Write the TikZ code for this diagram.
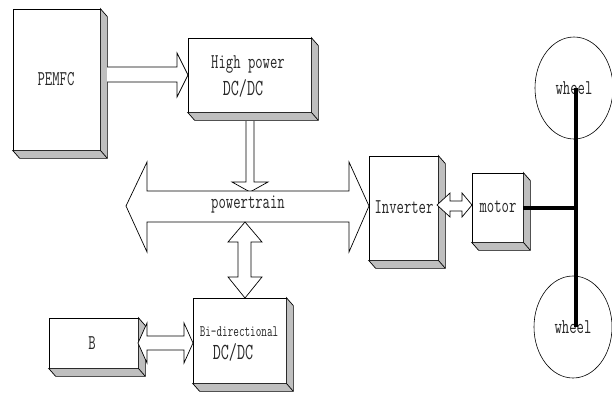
\documentclass[tikz,border=0pt]{standalone}
\usepackage{fontspec}
\newfontfamily\reffont{Latin Modern Mono}[FakeStretch=0.68]
\usetikzlibrary{calc,shapes.geometric}
\newcommand\boxshade[1]{%
  \filldraw[fill=black!25,line join=miter] (#1.north east) -- ++(7,8) -- ($(#1.south east)+(7,8)$) -- ($(#1.south west)+(7,8)$) -- (#1.south west) -- (#1.south east) -- cycle;
  \draw (#1.south east) -- ++(7,8);}
\begin{document}
\begin{tikzpicture}[x=1pt,y=-1pt,line width=0.7pt,
  lbl/.style={font=\reffont\fontsize{21}{21}\selectfont, inner sep=0pt, text=black!85},
  big/.style={font=\reffont\fontsize{23}{23}\selectfont, inner sep=0pt, text=black!85},
  small/.style={font=\reffont\fontsize{16}{16}\selectfont, inner sep=0pt, text=black!85},
  blk/.style={draw, fill=white, rectangle, inner sep=0pt},
  barrow/.style={draw, fill=white, line join=miter},
  axle/.style={line width=4pt},
  whl/.style={draw, ellipse, inner sep=0pt, line width=0.6pt, minimum width=78pt, minimum height=102pt}]
\useasboundingbox (0,0) rectangle (612,394);

% boxes
\node (pemfc) [blk, minimum width=87pt, minimum height=141pt] at (56.5,79.5) {};
\node (hp) [blk, minimum width=123pt, minimum height=74pt] at (249.5,75) {};
\node (bi) [blk, minimum width=93pt, minimum height=85pt] at (239.5,340.5) {};
\node (bat) [blk, minimum width=89pt, minimum height=50pt] at (93.5,343) {};
\node (inv) [blk, minimum width=69pt, minimum height=104pt] at (403.5,208) {};
\node (mot) [blk, minimum width=51pt, minimum height=69pt] at (497.5,207.5) {};
\foreach \b in {pemfc,hp,bi,bat,inv,mot} {\boxshade{\b}}

% labels
\node (pemfct) [lbl] at (56,79) {PEMFC};
\node (hpt1) [lbl] at (248,64) {High power};
\node (hpt2) [big] at (243,88) {DC/DC};
\node (bit1) [small] at (239,332) {Bi-directional};
\node (bit2) [big] at (233,352) {DC/DC};
\node (batt) [lbl] at (92,343) {B};
\node (invt) [lbl] at (404,207) {Inverter};
\node (mott) [lbl] at (498,207) {motor};

% block arrows
\draw[barrow] (107,67) -- (177,67) -- (177,53) -- (188,75) -- (177,97) -- (177,82) -- (107,82);
\draw[barrow] (246,121) -- (246,182) -- (232,182) -- (250,192) -- (268,182) -- (254,182) -- (254,121);
\draw[barrow] (126,206) -- (147,162) -- (147,191) -- (349,191) -- (349,162) -- (369,206)
  -- (349,252) -- (349,222) -- (147,222) -- (147,252) -- cycle;
\node (pt) [lbl] at (248,205) {powertrain};
\draw[barrow] (245,222) -- (262,242) -- (251,242) -- (251,277) -- (262,277) -- (245,298)
  -- (228,277) -- (238,277) -- (238,242) -- (228,242) -- cycle;
\draw[barrow] (138,343) -- (147,323) -- (147,336) -- (184,336) -- (184,323) -- (193,343)
  -- (184,363) -- (184,350) -- (147,350) -- (147,363) -- cycle;
\draw[barrow] (437,205) -- (450,193) -- (450,201) -- (462,201) -- (462,193) -- (472,205)
  -- (462,217) -- (462,211) -- (450,211) -- (450,217) -- cycle;

% wheels
\node (w1) [whl] at (574,88) {};
\node (w2) [whl] at (573,327) {};
\node (w1t) [lbl] at (574,88) {wheel};
\node (w2t) [lbl] at (573,327) {wheel};
\coordinate (axj) at (576,207.5);
\draw[axle] (mot.east) -- (axj);
\draw[axle] (576,88) -- (576,327);
\end{tikzpicture}
\end{document}
